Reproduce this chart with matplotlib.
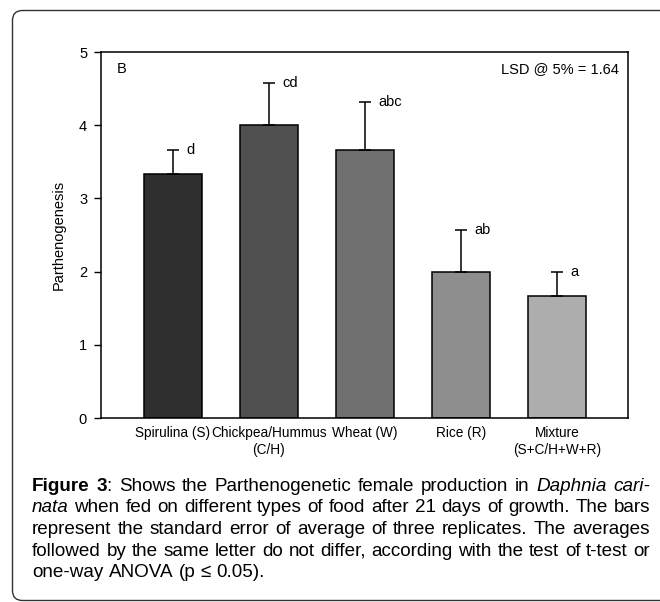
import matplotlib
matplotlib.use("Agg")
from matplotlib import pyplot as plt
from matplotlib.patches import PathPatch
from matplotlib.path import Path
from matplotlib.transforms import IdentityTransform
import numpy as np

plt.rcParams['font.family'] = ['Liberation Sans', 'DejaVu Sans']

foods = ["Spirulina (S)", "Chickpea/Hummus\n(C/H)", "Wheat (W)", "Rice (R)", "Mixture\n(S+C/H+W+R)"]
parth = [3.33, 4.00, 3.66, 2.00, 1.66]
se = [0.33, 0.57, 0.66, 0.57, 0.33]
letters = ["d", "cd", "abc", "ab", "a"]
bar_colors = ["#2f2f2f", "#505050", "#6f6f6f", "#8e8e8e", "#adadad"]

caption = [
    [("Figure 3", "bold"), (": Shows the Parthenogenetic female production in ", "normal"), ("Daphnia cari-", "italic")],
    [("nata", "italic"), (" when fed on different types of food after 21 days of growth. The bars", "normal")],
    [("represent the standard error of average of three replicates. The averages", "normal")],
    [("followed by the same letter do not differ, according with the test of t-test or", "normal")],
    [("one-way ANOVA (p \u2264 0.05).", "normal")],
]

W, H = 660, 602
fig = plt.figure(figsize=(W / 100, H / 100), dpi=100)

# rounded frame on the left side, running off the right edge
fl, ft, fb, r = 12.5, H - 10.5, 1.5, 10
verts = [(W + 20, ft), (fl + r, ft), (fl, ft), (fl, ft - r), (fl, fb + r), (fl, fb), (fl + r, fb), (W + 20, fb)]
codes = [Path.MOVETO, Path.LINETO, Path.CURVE3, Path.CURVE3, Path.LINETO, Path.CURVE3, Path.CURVE3, Path.LINETO]
fig.patches.append(PathPatch(Path(verts, codes), transform=IdentityTransform(), fill=False,
                             edgecolor="#333333", lw=1.0))

ax = fig.add_axes([101 / W, (H - 418) / H, 527 / W, 366 / H])
x = np.arange(len(foods))
ax.bar(x, parth, width=0.6, color=bar_colors, edgecolor="black", linewidth=1.1, zorder=2)
ax.errorbar(x, parth, yerr=[np.zeros(len(se)), se], fmt="none", ecolor="black",
            elinewidth=1.1, capsize=4.3, capthick=1.1, zorder=3)
for xi, v, s, lt in zip(x, parth, se, letters):
    ax.text(xi + 0.14, v + s, lt, ha="left", va="center", fontsize=10.5)

ax.set_xlim(-0.75, 4.74)
ax.set_ylim(0, 5)
ax.set_yticks([0, 1, 2, 3, 4, 5])
ax.set_xticks(x)
ax.set_xticklabels(foods, fontsize=9.8)
ax.tick_params(axis="x", length=0, pad=6)
ax.tick_params(axis="y", direction="out", length=5, width=1.0, labelsize=10.5, pad=5)
for sp in ax.spines.values():
    sp.set_linewidth(1.1)
ax.set_ylabel("Parthenogenesis", fontsize=10.5)
ax.yaxis.set_label_coords((66 - 101) / 527, 0.5)

ax.text(0.03, 0.954, "B", transform=ax.transAxes, ha="left", va="center", fontsize=10.5)
ax.text(0.983, 0.954, "LSD @ 5% = 1.64", transform=ax.transAxes, ha="right", va="center", fontsize=10.5)

# justified caption
renderer = fig.canvas.get_renderer()
x0, x1 = 32, 650
line_y = [486.5, 508, 529.5, 551, 572.5]


def style_kw(st):
    if st == "bold":
        return dict(fontweight="bold")
    if st == "italic":
        return dict(fontstyle="italic")
    return {}


def text_w(s, size, st="normal"):
    t = fig.text(0, 0, s, fontsize=size, **style_kw(st))
    w = t.get_window_extent(renderer).width
    t.remove()
    return w


# font size so the tightest line fills the width with ordinary spaces
probe = caption[3][0][0]
cap_size = 12.5 * (x1 - x0) / text_w(probe, 12.5)

for li, runs in enumerate(caption):
    words = [[]]
    for txt, st in runs:
        parts = txt.split(" ")
        for k, p in enumerate(parts):
            if k > 0:
                words.append([])
            if p:
                words[-1].append((p, st))
    words = [w for w in words if w]
    ypix = H - line_y[li]
    arts = []
    widths = []
    for w in words:
        pieces = []
        ww = 0
        for p, st in w:
            t = fig.text(0, ypix, p, transform=IdentityTransform(), fontsize=cap_size,
                         va="center", ha="left", **style_kw(st))
            bw = t.get_window_extent(renderer).width
            pieces.append((t, bw))
            ww += bw
        arts.append(pieces)
        widths.append(ww)
    if li < len(caption) - 1:
        gap = (x1 - x0 - sum(widths)) / (len(words) - 1)
    else:
        gap = text_w("a a", cap_size) - 2 * text_w("a", cap_size)
    cx = x0
    for pieces, ww in zip(arts, widths):
        px = cx
        for t, bw in pieces:
            t.set_x(px)
            px += bw
        cx += ww + gap

fig.savefig("out.png", dpi=100)
